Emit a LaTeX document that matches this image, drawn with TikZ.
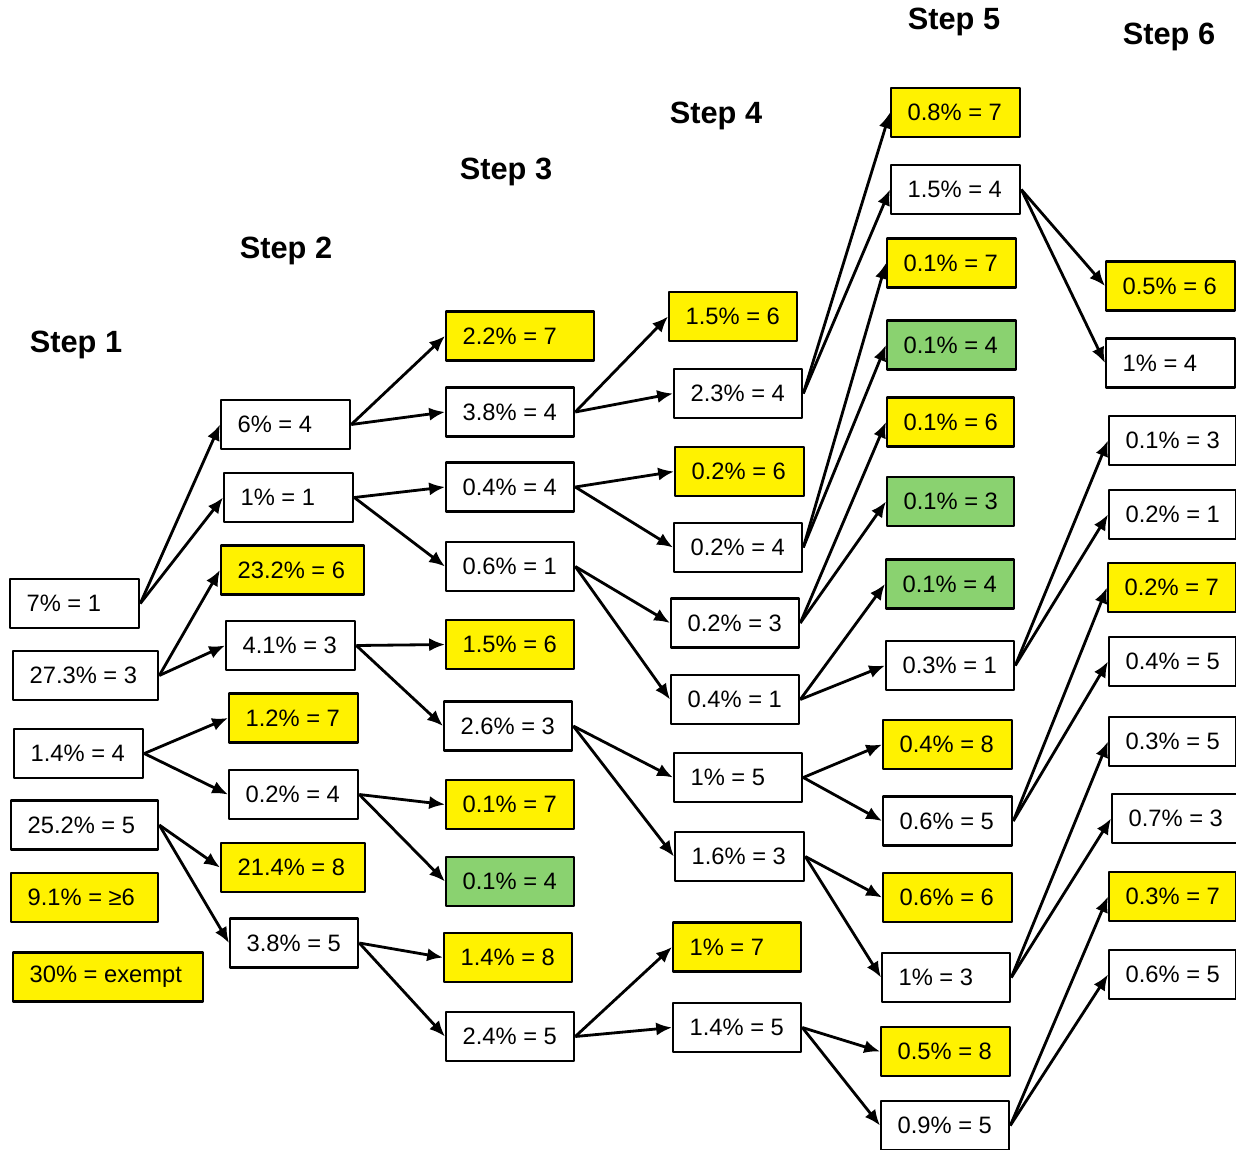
\documentclass[tikz,border=0pt]{standalone}
\usepackage{fontspec}
\setmainfont{Liberation Sans}
\usetikzlibrary{arrows.meta}
\definecolor{cellgreen}{RGB}{138,210,112}
\begin{document}
\begin{tikzpicture}[x=0.02cm,y=-0.02cm,line join=round,>={Latex[length=9pt,width=7.5pt]}]
\tikzset{cell/.style={draw,line width=1.3pt,minimum height=0.98cm,inner xsep=0.33cm,inner ysep=0pt,anchor=west,font=\fontsize{13.5}{16}\selectfont},
  wc/.style={cell,fill=white},
  yc/.style={cell,fill=yellow},
  gc/.style={cell,fill=cellgreen},
  steptitle/.style={font=\fontsize{17.5}{20}\selectfont\bfseries},
  link/.style={->,line width=1.6pt}}
\useasboundingbox (0,0) rectangle (1236,1149);
\foreach \n/\xy in {1/{76,345},2/{286,251},3/{506,172},4/{716,116},5/{954,22},6/{1169,37}}
  \node[steptitle] (title\n) at (\xy) {Step \n};
\foreach \n/\st/\xa/\xb/\ya/\yb/\t in {
  a1/wc/9/138/579/628/7\% = 1, a2/wc/12/157/651/700/27.3\% = 3, a3/wc/13/142/729/778/1.4\% = 4,
  a4/wc/10/157/800/850/25.2\% = 5, a5/yc/10/157/873/922/9.1\% = ≥6, a6/yc/12/202/952/1002/30\% = exempt,
  b1/wc/220/349/400/449/6\% = 4, b2/wc/223/352/473/522/1\% = 1, b3/yc/220/363/546/594/23.2\% = 6,
  b4/wc/225/354/621/670/4.1\% = 3, b5/yc/228/357/693/743/1.2\% = 7, b6/wc/228/357/770/819/0.2\% = 4,
  b7/yc/220/364/843/892/21.4\% = 8, b8/wc/229/357/918/968/3.8\% = 5,
  c1/yc/445/593/311/361/2.2\% = 7, c2/wc/445/573/387/437/3.8\% = 4, c3/wc/445/573/462/512/0.4\% = 4,
  c4/wc/445/573/542/591/0.6\% = 1, c5/yc/445/573/620/669/1.5\% = 6, c6/wc/443/571/701/751/2.6\% = 3,
  c7/yc/445/573/780/829/0.1\% = 7, c8/gc/445/573/857/906/0.1\% = 4, c9/yc/443/571/933/982/1.4\% = 8,
  c10/wc/445/573/1012/1061/2.4\% = 5,
  d1/yc/668/796/291/342/1.5\% = 6, d2/wc/673/801/369/418/2.3\% = 4, d3/yc/674/803/447/496/0.2\% = 6,
  d4/wc/673/801/523/572/0.2\% = 4, d5/wc/670/798/598/648/0.2\% = 3, d6/wc/670/798/675/724/0.4\% = 1,
  d7/wc/673/801/753/802/1\% = 5, d8/wc/674/803/832/881/1.6\% = 3, d9/yc/672/800/922/972/1\% = 7,
  d10/wc/672/800/1003/1052/1.4\% = 5,
  e1/yc/890/1019/88/137/0.8\% = 7, e2/wc/890/1019/165/214/1.5\% = 4, e3/yc/886/1015/238/288/0.1\% = 7,
  e4/gc/886/1015/320/370/0.1\% = 4, e5/yc/886/1013/397/447/0.1\% = 6, e6/gc/886/1013/477/526/0.1\% = 3,
  e7/gc/885/1013/560/608/0.1\% = 4, e8/wc/885/1013/641/690/0.3\% = 1, e9/yc/882/1011/720/769/0.4\% = 8,
  e10/wc/882/1011/796/846/0.6\% = 5, e11/yc/882/1011/873/922/0.6\% = 6, e12/wc/881/1009/953/1002/1\% = 3,
  e13/yc/880/1009/1027/1076/0.5\% = 8, e14/wc/880/1008/1101/1150/0.9\% = 5,
  f1/yc/1105/1234/261/311/0.5\% = 6, f2/wc/1105/1234/338/388/1\% = 4, f3/wc/1108/1235/416/465/0.1\% = 3,
  f4/wc/1108/1235/490/539/0.2\% = 1, f5/yc/1107/1235/563/612/0.2\% = 7, f6/wc/1108/1235/637/686/0.4\% = 5,
  f7/wc/1108/1235/717/766/0.3\% = 5, f8/wc/1111/1236/794/843/0.7\% = 3, f9/yc/1108/1235/872/921/0.3\% = 7,
  f10/wc/1108/1235/950/999/0.6\% = 5}
{
  \pgfmathsetlengthmacro\tw{(\xb-\xa)*0.02cm-0.66cm}
  \node[\st] (\n) at (\xa,{(\ya+\yb)/2}) {\makebox[\tw][l]{\t}};
}
\foreach \s/\e in {a1/b1,a1/b2,a2/b3,a2/b4,a3/b5,a3/b6,a4/b7,a4/b8,
  b1/c1,b1/c2,b2/c3,b2/c4,b4/c5,b4/c6,b6/c7,b6/c8,b8/c9,b8/c10,
  c2/d1,c2/d2,c3/d3,c3/d4,c4/d5,c4/d6,c6/d7,c6/d8,c10/d9,c10/d10,
  d2/e1,d2/e2,d4/e3,d4/e4,d5/e5,d5/e6,d6/e7,d6/e8,d7/e9,d7/e10,d8/e11,d8/e12,d10/e13,d10/e14,
  e2/f1,e2/f2,e8/f3,e8/f4,e10/f5,e10/f6,e12/f7,e12/f8,e14/f9,e14/f10}
  \draw[link] (\s.east)--(\e.west);
\end{tikzpicture}
\end{document}
